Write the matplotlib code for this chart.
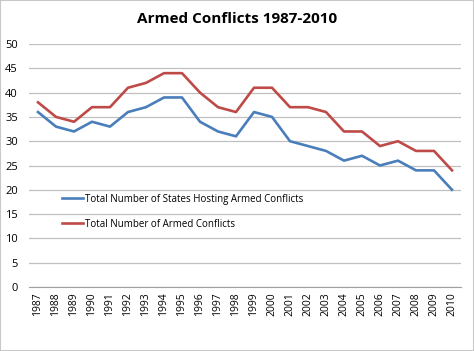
import matplotlib.pyplot as plt
import numpy as np

plt.rcParams['font.family'] = ['Open Sans', 'DejaVu Sans']

years = [str(y) for y in range(1987, 2011)]
states_hosting = [36, 33, 32, 34, 33, 36, 37, 39, 39, 34, 32, 31,
                  36, 35, 30, 29, 28, 26, 27, 25, 26, 24, 24, 20]
armed_conflicts = [38, 35, 34, 37, 37, 41, 42, 44, 44, 40, 37, 36,
                   41, 41, 37, 37, 36, 32, 32, 29, 30, 28, 28, 24]

fig = plt.figure(figsize=(4.74, 3.51), dpi=100)
ax = fig.add_axes([29 / 474, 1 - 287 / 351, 432 / 474, 243 / 351])

x = np.arange(len(years))
ax.plot(x, states_hosting, color='#4a7ebb', linewidth=1.9,
        label='Total Number of States Hosting Armed Conflicts')
ax.plot(x, armed_conflicts, color='#be4b48', linewidth=1.9,
        label='Total Number of Armed Conflicts')

ax.set_xlim(-0.5, len(years) - 0.5)
ax.set_ylim(0, 50)
ax.set_yticks(np.arange(0, 51, 5))
ax.set_xticks(x)
ax.set_xticklabels(years, rotation=90, fontsize=7.5)
ax.tick_params(axis='y', labelsize=8, length=0, pad=8)
ax.tick_params(axis='x', length=0, pad=4)
ax.grid(True, axis='y', color='#c0c0c0', linewidth=0.9)
ax.set_axisbelow(True)
for side in ['top', 'right', 'left']:
    ax.spines[side].set_visible(False)
ax.spines['bottom'].set_color('#a0a0a0')

ax.legend(loc='lower left', bbox_to_anchor=(0.055, 0.2), frameon=False,
          fontsize=7, handlelength=2.2, handletextpad=0.2, labelspacing=1.45)

fig.text(0.5, 1 - 19 / 351, 'Armed Conflicts 1987-2010', ha='center', va='center',
         fontsize=11, fontweight='bold')

border = plt.Rectangle((0, 0), 1, 1, transform=fig.transFigure, fill=False,
                       edgecolor='#c8c8c8', linewidth=1.5)
fig.patches.append(border)

fig.savefig('out.png', dpi=100)
